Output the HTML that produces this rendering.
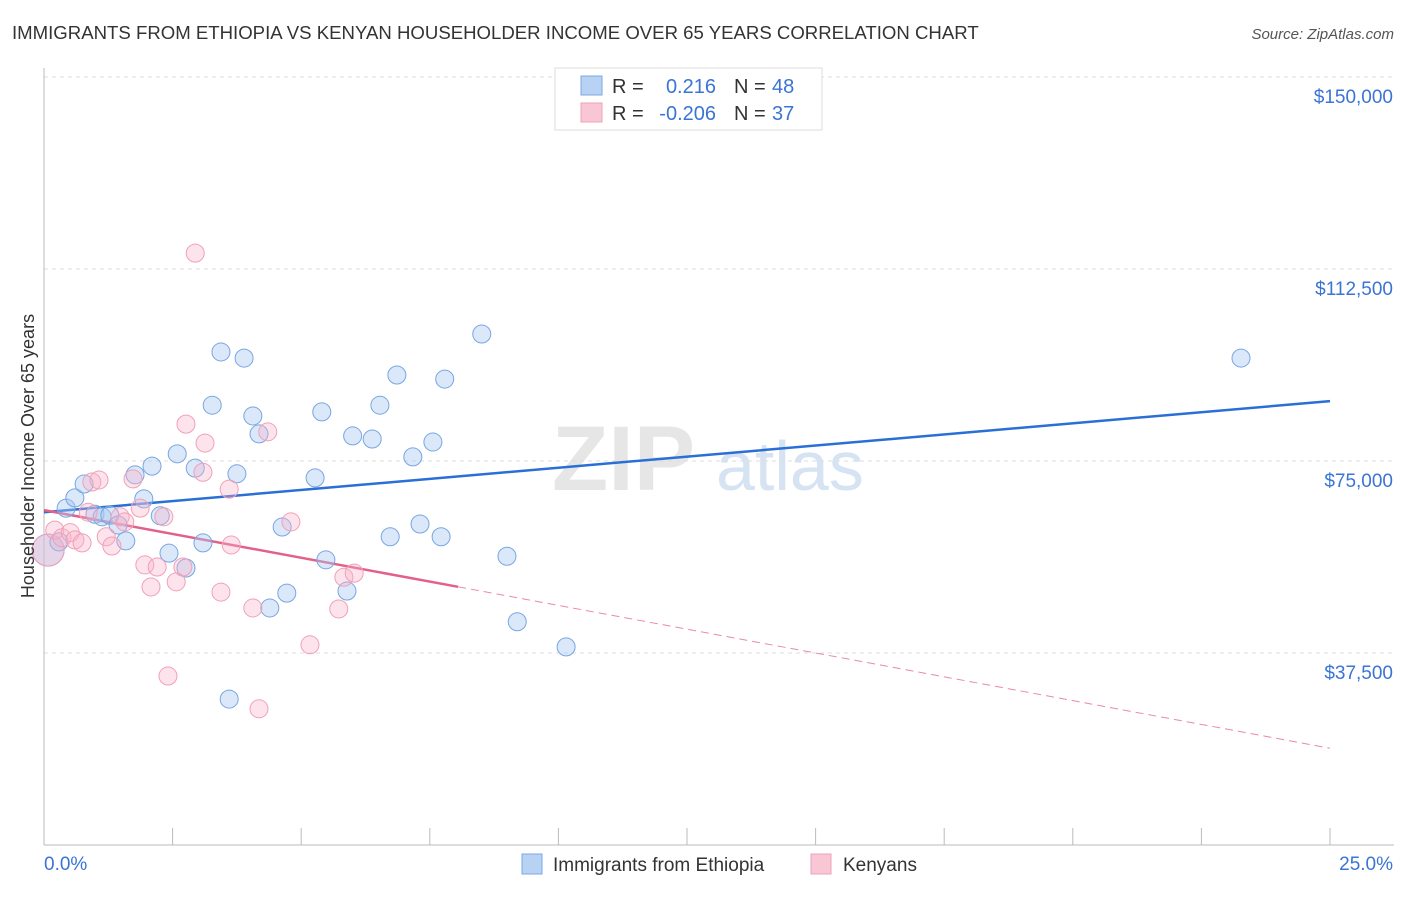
<!DOCTYPE html>
<html><head><meta charset="utf-8"><style>
body{margin:0;background:#fff;font-family:"Liberation Sans",sans-serif;}
svg text{font-family:"Liberation Sans",sans-serif;}
</style></head><body>
<svg id="chart" width="1406" height="892" xmlns="http://www.w3.org/2000/svg">
<text x="12" y="39" font-size="18.6" fill="#333">IMMIGRANTS FROM ETHIOPIA VS KENYAN HOUSEHOLDER INCOME OVER 65 YEARS CORRELATION CHART</text>
<text x="1394" y="39" font-size="15" fill="#555" text-anchor="end" font-style="italic">Source: ZipAtlas.com</text>
<g>
<text x="552" y="490" font-size="92" font-family="Liberation Serif" fill="#e6e6e6" font-weight="bold">ZIP</text>
<text x="716" y="490" font-size="70" fill="#d5e3f3">atlas</text>
</g>
<g id="grid"></g>
<g id="axes"></g>
<g id="lines"></g>
<g id="points"></g>
<g>
<rect x="555" y="68" width="267" height="62" fill="#fff" stroke="#ddd"/>
<rect x="581" y="76" width="21" height="19" fill="#b8d2f4" stroke="#7aa8e6"/>
<rect x="581" y="103" width="21" height="19" fill="#f9c6d5" stroke="#f0a0b8"/>
<text x="612" y="93" font-size="20" fill="#333">R =</text>
<text x="716" y="93" font-size="20" fill="#3a74d4" text-anchor="end">0.216</text>
<text x="734" y="93" font-size="20" fill="#333">N =</text>
<text x="772" y="93" font-size="20" fill="#3a74d4">48</text>
<text x="612" y="120" font-size="20" fill="#333">R =</text>
<text x="716" y="120" font-size="20" fill="#3a74d4" text-anchor="end">-0.206</text>
<text x="734" y="120" font-size="20" fill="#333">N =</text>
<text x="772" y="120" font-size="20" fill="#3a74d4">37</text>
</g>
<g>
<rect x="522" y="854" width="20" height="20" fill="#b8d2f4" stroke="#7aa8e6"/>
<text x="553" y="871" font-size="19" fill="#333">Immigrants from Ethiopia</text>
<rect x="811" y="854" width="20" height="20" fill="#f9c6d5" stroke="#f0a0b8"/>
<text x="843" y="871" font-size="19" fill="#333">Kenyans</text>
</g>
<text transform="translate(34,456) rotate(-90)" font-size="18" fill="#333" text-anchor="middle">Householder Income Over 65 years</text>
</svg>
<script>
const yTicks=[37500,75000,112500,150000];
const yTickLabels=["$37,500","$75,000","$112,500","$150,000"];
const xTickLabels=["0.0%","25.0%"];
const blueX=[0.43,0.6,0.78,0.99,1.13,1.28,1.44,1.59,1.77,1.94,2.1,2.26,2.43,2.59,2.76,2.94,3.09,3.27,3.44,3.6,3.75,3.89,4.06,4.18,4.39,4.63,4.72,5.27,5.4,5.48,5.89,6.0,6.38,6.53,6.73,6.86,7.17,7.31,7.56,7.72,7.79,8.51,9.0,9.2,10.15,23.27,0.08,0.29];
const blueY=[65.8,67.8,70.5,64.6,64.1,64.4,62.5,59.4,72.3,67.6,74.0,64.3,57.0,76.4,54.1,73.6,59.0,85.9,96.3,28.5,72.5,95.1,83.8,80.3,46.3,62.1,49.2,71.7,84.6,55.7,49.6,79.9,79.3,85.9,60.2,91.8,75.8,62.7,78.7,60.2,91.0,99.8,56.4,43.6,38.7,95.1,57.6,59.2];
const pinkX=[0.08,0.21,0.35,0.51,0.6,0.74,0.86,0.93,1.07,1.21,1.32,1.48,1.57,1.73,1.87,1.96,2.08,2.2,2.33,2.41,2.57,2.7,2.76,2.94,3.09,3.13,3.44,3.6,3.64,4.06,4.18,4.35,4.8,5.17,5.73,5.83,6.03];
const pinkY=[57.6,61.5,60.0,61.0,59.6,59.0,65.0,70.9,71.3,60.2,58.4,64.1,63.1,71.5,65.8,54.7,50.4,54.3,64.1,33.0,51.4,54.3,82.2,115.6,72.8,78.5,49.4,69.5,58.6,46.3,26.6,80.7,63.1,39.1,46.1,52.3,53.1];
const blueTrend=[65.0,86.7];
const pinkTrend=[65.4,18.9];
const pinkSolidEnd=8.05;
const NS="http://www.w3.org/2000/svg";
const X=p=>44+p*51.44;
const Y=v=>845-v*1000*192/37500;
function mk(tag,attrs,parent){const e=document.createElementNS(NS,tag);for(const k in attrs)e.setAttribute(k,attrs[k]);parent.appendChild(e);return e;}
const grid=document.getElementById('grid'),axes=document.getElementById('axes'),lines=document.getElementById('lines'),pts=document.getElementById('points');
yTicks.forEach((t,i)=>{
 const l=mk('line',{x1:44,x2:1394,y1:Y(t/1000),y2:Y(t/1000),stroke:'#ddd','stroke-dasharray':'4,4'},grid);
 
 
 const tx=mk('text',{x:1393,y:Y(t/1000)+26,'font-size':19,fill:'#3a74d4','text-anchor':'end'},axes);
 tx.textContent=yTickLabels[i];
 
 
});
const ya=mk('line',{x1:44,x2:44,y1:68,y2:845,stroke:'#bbb'},axes);


const xa=mk('line',{x1:44,x2:1394,y1:845,y2:845,stroke:'#bbb'},axes);


for(let i=0;i<=10;i++){
 const tk=mk('line',{x1:X(i*2.5),x2:X(i*2.5),y1:828,y2:845,stroke:'#bbb'},axes);
 
 
}
[[0,'start',44],[1,'end',1393]].forEach(([i,a,x])=>{
 const t=mk('text',{x:x,y:870,'font-size':19,fill:'#3a74d4','text-anchor':a},axes);
 t.textContent=xTickLabels[i];
 
 
});
function addPts(xs,ys,fill,stroke,name){
 xs.forEach((x,i)=>{
  const big=(x<0.1);
  const c=mk('circle',{cx:X(x),cy:Y(ys[i]),r:big?16:9,fill:fill,stroke:stroke,'stroke-width':1},pts);
  
  
 });
}
addPts(blueX,blueY,'rgba(168,200,240,0.42)','#78a6e2','point-ethiopia');
addPts(pinkX,pinkY,'rgba(248,178,200,0.35)','#f0a0b8','point-kenyans');
const bl=mk('line',{x1:X(0),y1:Y(blueTrend[0]),x2:X(25),y2:Y(blueTrend[1]),stroke:'#2a6fd6','stroke-width':2.5},lines);


const pm=pinkTrend[0]+(pinkTrend[1]-pinkTrend[0])*pinkSolidEnd/25;
const pl=mk('line',{x1:X(0),y1:Y(pinkTrend[0]),x2:X(pinkSolidEnd),y2:Y(pm),stroke:'#e3608a','stroke-width':2.5},lines);


const pd=mk('line',{x1:X(pinkSolidEnd),y1:Y(pm),x2:X(25),y2:Y(pinkTrend[1]),stroke:'#e88aa8','stroke-width':1,'stroke-dasharray':'8,5'},lines);


</script>
</body></html>
